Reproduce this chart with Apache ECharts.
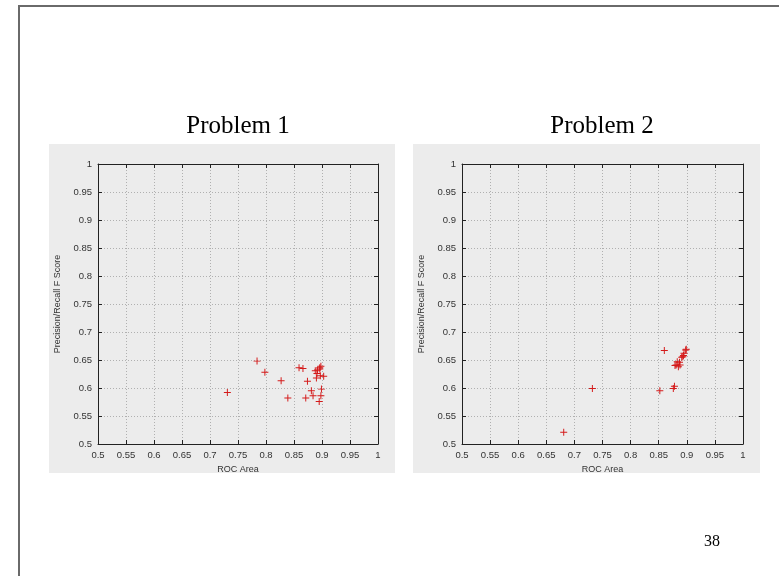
<!DOCTYPE html>
<html>
<head>
<meta charset="utf-8">
<script src="https://cdn.jsdelivr.net/npm/echarts@6/dist/echarts.min.js"></script>
<style>
  html, body { margin: 0; padding: 0; background: #fff; }
  #chart { width: 779px; height: 576px; }
</style>
</head>
<body>
<div id="chart"></div>
<script>
// panel titles
const titles = ['Problem 1', 'Problem 2'];
const pageNo = '38';

// Problem 1: ROC area vs precision/recall F score
const roc1 = [0.784, 0.798, 0.827, 0.731, 0.839, 0.859, 0.866, 0.874, 0.871, 0.881, 0.884,
  0.888, 0.891, 0.890, 0.896, 0.898, 0.896, 0.892, 0.897, 0.903, 0.899, 0.898, 0.895];
const f1 = [0.648, 0.628, 0.613, 0.592, 0.582, 0.636, 0.635, 0.612, 0.582, 0.595, 0.586,
  0.631, 0.626, 0.618, 0.636, 0.639, 0.634, 0.632, 0.622, 0.621, 0.598, 0.586, 0.576];

// Problem 2
const roc2 = [0.860, 0.732, 0.681, 0.852, 0.876, 0.878, 0.881, 0.883, 0.888, 0.887, 0.891,
  0.893, 0.895, 0.898, 0.899, 0.885, 0.879, 0.894];
const f2 = [0.667, 0.599, 0.521, 0.595, 0.599, 0.603, 0.641, 0.647, 0.641, 0.646, 0.655,
  0.656, 0.662, 0.668, 0.669, 0.638, 0.640, 0.658];

const xName = 'ROC Area';
const yName = 'Precision/Recall F Score';

const font = 'Liberation Sans, Arial, sans-serif';
const lineCol = '#222';

function mainX(grid) {
  return {
    gridIndex: grid, type: 'value', min: 0.5, max: 1, interval: 0.05,
    name: xName, nameLocation: 'middle', nameGap: 21,
    nameTextStyle: { fontFamily: font, fontSize: 9, color: '#333' },
    axisLine: { show: true, onZero: false, lineStyle: { color: lineCol, width: 1 } },
    axisTick: { show: true, inside: true, length: 4, lineStyle: { color: lineCol } },
    axisLabel: { fontFamily: font, fontSize: 9.5, color: '#333', margin: 6 },
    splitLine: { show: true, lineStyle: { color: '#b0b0b0', type: [1, 2], width: 1 } }
  };
}
function mainY(grid) {
  return {
    gridIndex: grid, type: 'value', min: 0.5, max: 1, interval: 0.05,
    name: yName, nameLocation: 'middle', nameGap: 36,
    nameTextStyle: { fontFamily: font, fontSize: 9, color: '#333' },
    axisLine: { show: true, onZero: false, lineStyle: { color: lineCol, width: 1 } },
    axisTick: { show: true, inside: true, length: 4, lineStyle: { color: lineCol } },
    axisLabel: { fontFamily: font, fontSize: 9.5, color: '#333', margin: 6 },
    splitLine: { show: true, lineStyle: { color: '#b0b0b0', type: [1, 2], width: 1 } }
  };
}
function mirror(grid, pos) {
  return {
    gridIndex: grid, type: 'value', min: 0.5, max: 1, interval: 0.05, position: pos,
    axisLine: { show: true, onZero: false, lineStyle: { color: lineCol, width: 1 } },
    axisTick: { show: true, inside: true, length: 4, lineStyle: { color: lineCol } },
    axisLabel: { show: false },
    splitLine: { show: false }
  };
}

// thin plus sign like gnuplot's point type 1
const plus = 'path://M4.3,0H5.7V4.3H10V5.7H5.7V10H4.3V5.7H0V4.3H4.3Z';

let myChart = echarts.init(document.getElementById('chart'));

let option = {
  animation: false,
  backgroundColor: '#fff',
  graphic: [
    { type: 'polyline', shape: { points: [[19, 576], [19, 6], [779, 6]] },
      style: { stroke: '#6a6a6a', lineWidth: 2, fill: null }, z: -10 },
    { type: 'rect', shape: { x: 49, y: 144, width: 346, height: 329 },
      style: { fill: '#ececec' }, z: -10 },
    { type: 'rect', shape: { x: 413, y: 144, width: 347, height: 329 },
      style: { fill: '#ececec' }, z: -10 },
    { type: 'text', x: 238, y: 126,
      style: { text: titles[0], font: '25px "Liberation Serif", "Times New Roman", serif',
        fill: '#000', align: 'center', verticalAlign: 'middle' } },
    { type: 'text', x: 602, y: 126,
      style: { text: titles[1], font: '25px "Liberation Serif", "Times New Roman", serif',
        fill: '#000', align: 'center', verticalAlign: 'middle' } },
    { type: 'text', x: 712, y: 542,
      style: { text: pageNo, font: '16px "Liberation Serif", "Times New Roman", serif',
        fill: '#000', align: 'center', verticalAlign: 'middle' } }
  ],
  grid: [
    { left: 98, top: 164, width: 280, height: 280 },
    { left: 462, top: 164, width: 281, height: 280 }
  ],
  xAxis: [mainX(0), mainX(1), mirror(0, 'top'), mirror(1, 'top')],
  yAxis: [mainY(0), mainY(1), mirror(0, 'right'), mirror(1, 'right')],
  series: [
    {
      type: 'scatter', xAxisIndex: 0, yAxisIndex: 0,
      symbol: plus, symbolSize: 7,
      itemStyle: { color: '#d41a1a', opacity: 1 },
      data: roc1.map((v, i) => [v, f1[i]])
    },
    {
      type: 'scatter', xAxisIndex: 1, yAxisIndex: 1,
      symbol: plus, symbolSize: 7,
      itemStyle: { color: '#d41a1a', opacity: 1 },
      data: roc2.map((v, i) => [v, f2[i]])
    }
  ]
};

option && myChart.setOption(option);
</script>
</body>
</html>
